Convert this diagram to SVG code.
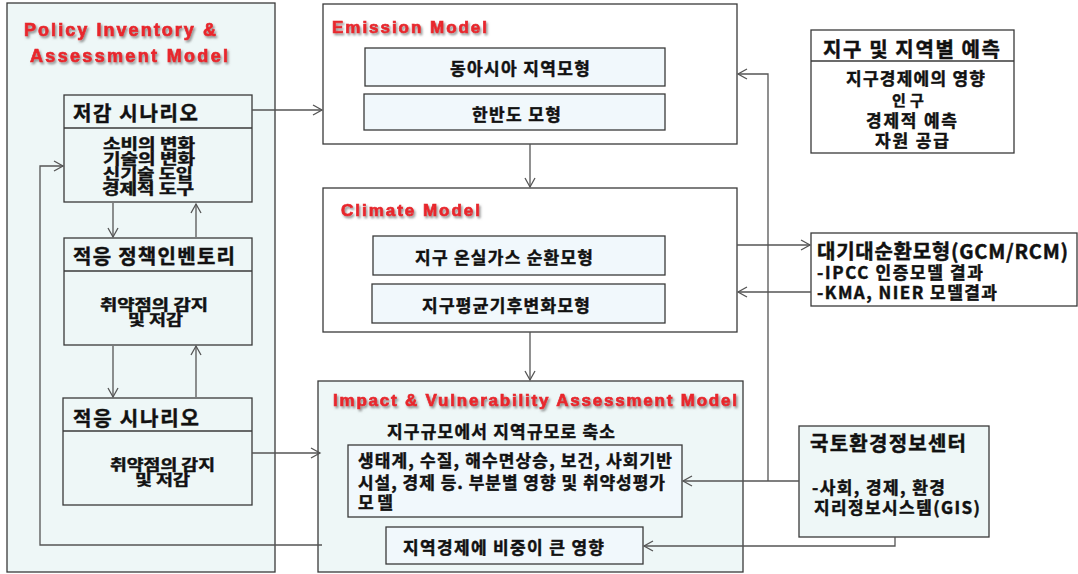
<svg xmlns="http://www.w3.org/2000/svg" width="1078" height="574" viewBox="0 0 1078 574">
<style>
.box{stroke:#3a3a3a;stroke-width:1.3}
.w{fill:#ffffff}
.c{fill:#eef7f7}
.b{fill:#f1f8fc}
.k{font-family:"Noto Sans CJK KR","Noto Sans",sans-serif;font-weight:700;fill:#111;stroke:#111;stroke-width:0.45;font-size:17px}
.h{font-size:20px}
.s{font-size:14.5px}
.r{font-family:"Liberation Sans",Arial,sans-serif;font-weight:700;fill:#e8262d;stroke:#e8262d;stroke-width:0.7;font-size:18px;filter:url(#sh)}
.ln{fill:none;stroke:#555;stroke-width:1.3}
.ar{marker-end:url(#a)}
</style>
<defs>
<filter id="sh" x="-5%" y="-20%" width="110%" height="150%">
<feDropShadow dx="1.5" dy="2" stdDeviation="1" flood-color="#777" flood-opacity="0.8"/>
</filter>
<marker id="a" markerWidth="12" markerHeight="12" refX="10" refY="6" orient="auto" markerUnits="userSpaceOnUse">
<path d="M1,1 L10,6 L1,11" fill="none" stroke="#555" stroke-width="1.3"/>
</marker>
</defs>
<rect width="1078" height="574" fill="#ffffff"/>

<g id="policy">
<rect class="box c" x="7" y="3" width="268" height="569"/>
<text class="r" x="24" y="36" textLength="192">Policy Inventory &amp;</text>
<text class="r" x="30" y="62" textLength="198">Assessment Model</text>
</g>

<g id="reduction">
<rect class="box c" x="64" y="95" width="188" height="107"/>
<line class="box" x1="64" y1="128" x2="252" y2="128"/>
<text class="k h" x="73" y="121" textLength="125">저감 시나리오</text>
<text class="k s" x="103" y="149" textLength="92" lengthAdjust="spacingAndGlyphs">소비의 변화</text>
<text class="k s" x="103" y="164" textLength="92" lengthAdjust="spacingAndGlyphs">기술의 변화</text>
<text class="k s" x="103" y="179" textLength="90" lengthAdjust="spacingAndGlyphs">신기술 도입</text>
<text class="k s" x="102" y="194" textLength="92" lengthAdjust="spacingAndGlyphs">경제적 도구</text>
</g>

<g id="inventory">
<rect class="box c" x="64" y="238" width="188" height="107"/>
<line class="box" x1="64" y1="271" x2="252" y2="271"/>
<text class="k h" x="73" y="264" textLength="162">적응 정책인벤토리</text>
<text class="k s" x="100" y="310" textLength="108" lengthAdjust="spacingAndGlyphs">취약점의 감지</text>
<text class="k s" x="128" y="325" textLength="55" lengthAdjust="spacingAndGlyphs">및 저감</text>
</g>

<g id="adaptation">
<rect class="box c" x="63" y="398" width="189" height="107"/>
<line class="box" x1="63" y1="431" x2="252" y2="431"/>
<text class="k h" x="73" y="426" textLength="126">적응 시나리오</text>
<text class="k s" x="110" y="470" textLength="105" lengthAdjust="spacingAndGlyphs">취약점의 감지</text>
<text class="k s" x="135" y="485" textLength="55" lengthAdjust="spacingAndGlyphs">및 저감</text>
</g>

<g id="emission">
<rect class="box w" x="323" y="4" width="414" height="140"/>
<text class="r" x="332" y="33" textLength="155" style="font-size:17px">Emission Model</text>
<rect class="box b" x="365" y="48" width="300" height="38"/>
<text class="k" x="450" y="75" textLength="140">동아시아 지역모형</text>
<rect class="box b" x="364" y="94" width="301" height="36"/>
<text class="k" x="472" y="121" textLength="89">한반도 모형</text>
</g>

<g id="climate">
<rect class="box w" x="323" y="188" width="414" height="144"/>
<text class="r" x="341" y="216" textLength="139" style="font-size:17px">Climate Model</text>
<rect class="box b" x="373" y="236" width="292" height="39"/>
<text class="k" x="415" y="264" textLength="178">지구 온실가스 순환모형</text>
<rect class="box b" x="372" y="284" width="293" height="39"/>
<text class="k" x="422" y="312" textLength="168">지구평균기후변화모형</text>
</g>

<g id="impact">
<rect class="box c" x="318" y="381" width="425" height="191"/>
<text class="r" x="333" y="406" textLength="404" style="font-size:17px">Impact &amp; Vulnerability Assessment Model</text>
<text class="k" x="387" y="438" textLength="228">지구규모에서 지역규모로 축소</text>
<rect class="box b" x="348" y="445" width="334" height="72"/>
<text class="k" x="358" y="467" textLength="314">생태계, 수질, 해수면상승, 보건, 사회기반</text>
<text class="k" x="358" y="489" textLength="307">시설, 경제 등. 부분별 영향 및 취약성평가</text>
<text class="k" x="358" y="509" textLength="35">모델</text>
<rect class="box b" x="386" y="527" width="257" height="37"/>
<text class="k" x="403" y="554" textLength="201">지역경제에 비중이 큰 영향</text>
</g>

<g id="forecast">
<rect class="box w" x="811" y="30" width="203" height="123"/>
<line class="box" x1="811" y1="61" x2="1014" y2="61"/>
<text class="k h" x="823" y="57" textLength="177">지구 및 지역별 예측</text>
<text class="k" x="846" y="85" textLength="139">지구경제에의 영향</text>
<text class="k" y="106" style="font-size:15px"><tspan x="892">인</tspan><tspan x="910">구</tspan></text>
<text class="k" x="866" y="127" textLength="91">경제적 예측</text>
<text class="k" x="875" y="147" textLength="74">자원 공급</text>
</g>

<g id="gcm">
<rect class="box w" x="811" y="233" width="266" height="73"/>
<text class="k h" x="817" y="259" textLength="251">대기대순환모형(GCM/RCM)</text>
<text class="k" x="817" y="279" textLength="166">-IPCC 인증모델 결과</text>
<text class="k" x="817" y="299" textLength="180">-KMA, NIER 모델결과</text>
</g>

<g id="gis">
<rect class="box c" x="799" y="426" width="190" height="111"/>
<text class="k h" x="810" y="451" textLength="156">국토환경정보센터</text>
<text class="k" x="812" y="494" textLength="133">-사회, 경제, 환경</text>
<text class="k" x="814" y="514" textLength="166">지리정보시스템(GIS)</text>
</g>

<g id="connectors">
<path class="ln ar" d="M252,110 H322"/>
<path class="ln ar" d="M530,144 V187"/>
<path class="ln ar" d="M530,332 V380"/>
<path class="ln ar" d="M113,203 V237"/>
<path class="ln ar" d="M196,237 V204"/>
<path class="ln ar" d="M113,346 V397"/>
<path class="ln ar" d="M196,397 V346"/>
<path class="ln ar" d="M252,453 H320"/>
<path class="ln ar" d="M322,545 H40 V166 H63"/>
<path class="ln ar" d="M737,245 H810"/>
<path class="ln ar" d="M811,292 H738"/>
<path class="ln ar" d="M799,481 H683"/>
<path class="ln ar" d="M768,481 V74 H738"/>
<path class="ln ar" d="M895,537 V546 H644"/>
</g>
</svg>
